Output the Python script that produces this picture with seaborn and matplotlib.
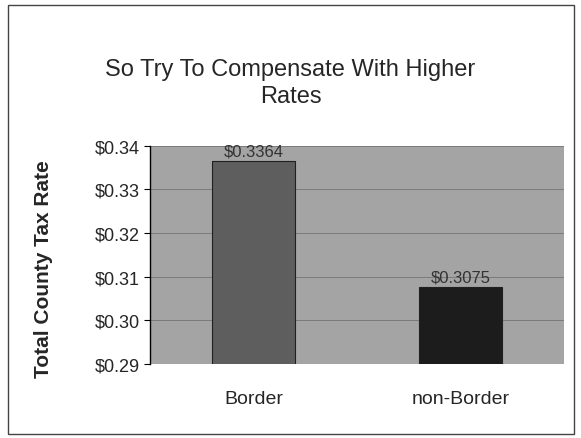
import matplotlib
matplotlib.use("Agg")
import matplotlib.pyplot as plt
import matplotlib.ticker as mticker
from matplotlib.patches import Rectangle
import seaborn as sns

# Data
categories = ["Border", "non-Border"]
tax_rate = [0.3364, 0.3075]
bar_colors = ["#5e5e5e", "#1c1c1c"]

sns.set_style("white")
plt.rcParams['font.family'] = ['Liberation Sans', 'DejaVu Sans']

fig = plt.figure(figsize=(5.81, 4.39), dpi=100)
ax = fig.add_axes([0.258, 0.169, 0.713, 0.497])
ax.set_facecolor("#a4a4a4")

sns.barplot(x=categories, y=tax_rate, hue=categories, palette=bar_colors,
            width=0.4, legend=False, ax=ax, edgecolor="#202020", linewidth=0.8)

ax.set_ylim(0.29, 0.34)
ax.set_yticks([0.29, 0.30, 0.31, 0.32, 0.33, 0.34])
ax.yaxis.set_major_formatter(mticker.FuncFormatter(lambda v, p: f"${v:.2f}"))
ax.yaxis.grid(True, color="#7a7a7a", linewidth=0.7)
ax.set_axisbelow(True)

for cont in ax.containers:
    ax.bar_label(cont, labels=[f"${h.get_height():.4f}" for h in cont],
                 padding=2, fontsize=12, color="#333333")

ax.set_xlabel("")
ax.set_ylabel("Total County Tax Rate", fontsize=15, fontweight="bold")
ax.yaxis.set_label_coords(-0.235, 0.44)
ax.tick_params(axis="y", labelsize=13, length=4, direction="out", left=True, color="black")
ax.tick_params(axis="x", labelsize=14, length=0, pad=19)

for side in ["top", "right", "bottom"]:
    ax.spines[side].set_visible(False)
ax.spines["left"].set_color("black")
ax.spines["left"].set_linewidth(1.0)

fig.text(0.5, 0.81, "So Try To Compensate With Higher\nRates", ha="center",
         va="center", fontsize=17, linespacing=1.25)

# outer chart frame
fig.patches.append(Rectangle((0.013, 0.008), 0.975, 0.978, transform=fig.transFigure,
                             fill=False, edgecolor="#444444", linewidth=1.0))

fig.savefig("out.png", dpi=100)
